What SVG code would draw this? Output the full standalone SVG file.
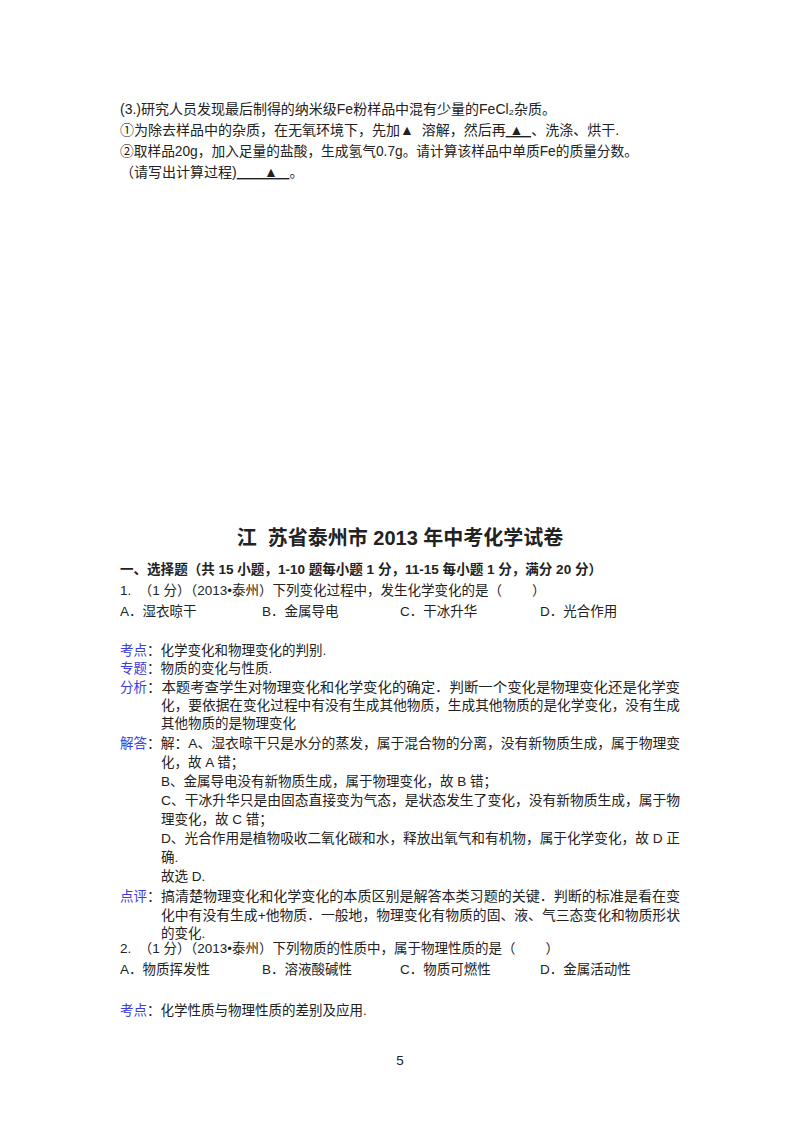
<svg xmlns="http://www.w3.org/2000/svg" width="800" height="1132" viewBox="0 0 800 1132">
<style>
text{font-family:"Liberation Sans","Noto Sans CJK SC",sans-serif;font-size:13.5px;fill:#222}
.b{font-weight:bold}
.l{fill:#3b3bdd}
.t{font-size:20px;font-weight:bold}
.p{font-size:14px}
</style>
<rect width="800" height="1132" fill="#fff"/>
<g id="part3">
<text class="p" x="120" y="114" textLength="436" lengthAdjust="spacingAndGlyphs">(3.)研究人员发现最后制得的纳米级Fe粉样品中混有少量的FeCl₂杂质。</text>
<text class="p" x="120" y="135">①为除去样品中的杂质，在无氧环境下，先加▲&#160;&#160;溶解，然后再<tspan text-decoration="underline">&#160;▲&#160;&#160;</tspan>、洗涤、烘干.</text>
<text class="p" x="120" y="156" textLength="518" lengthAdjust="spacingAndGlyphs">②取样品20g，加入足量的盐酸，生成氢气0.7g。请计算该样品中单质Fe的质量分数。</text>
<text class="p" x="120" y="177">（请写出计算过程)<tspan text-decoration="underline">&#160;&#160;&#160;&#160;&#160;&#160;&#160;▲&#160;&#160;&#160;</tspan>。</text>
</g>
<g id="exam">
<text class="t" x="400" y="545" text-anchor="middle">江&#160;&#160;苏省泰州市 2013 年中考化学试卷</text>
<text class="b" x="120" y="574" textLength="482" lengthAdjust="spacingAndGlyphs">一、选择题（共 15 小题，1-10 题每小题 1 分，11-15 每小题 1 分，满分 20 分）</text>
<text x="120" y="595">1.&#160;&#160;（1 分）（2013•泰州）下列变化过程中，发生化学变化的是（&#160;&#160;&#160;&#160;&#160;&#160;&#160;&#160;）</text>
<text x="120" y="616">A．湿衣晾干</text><text x="262" y="616">B．金属导电</text><text x="400" y="616">C．干冰升华</text><text x="540" y="616">D．光合作用</text>
<text class="l" x="120" y="655">考点</text><text x="147" y="655">：化学变化和物理变化的判别.</text>
<text class="l" x="120" y="673">专题</text><text x="147" y="673">：物质的变化与性质.</text>
<text class="l" x="120" y="692">分析</text><text x="147" y="692" textLength="533" lengthAdjust="spacingAndGlyphs">：本题考查学生对物理变化和化学变化的确定．判断一个变化是物理变化还是化学变</text>
<text x="161" y="710" textLength="519" lengthAdjust="spacingAndGlyphs">化，要依据在变化过程中有没有生成其他物质，生成其他物质的是化学变化，没有生成</text>
<text x="161" y="728">其他物质的是物理变化</text>
<text class="l" x="120" y="748">解答</text><text x="147" y="748" textLength="533" lengthAdjust="spacingAndGlyphs">：解：A、湿衣晾干只是水分的蒸发，属于混合物的分离，没有新物质生成，属于物理变</text>
<text x="161" y="767">化，故 A 错；</text>
<text x="161" y="786">B、金属导电没有新物质生成，属于物理变化，故 B 错；</text>
<text x="161" y="805" textLength="519" lengthAdjust="spacingAndGlyphs">C、干冰升华只是由固态直接变为气态，是状态发生了变化，没有新物质生成，属于物</text>
<text x="161" y="824">理变化，故 C 错；</text>
<text x="161" y="843" textLength="519" lengthAdjust="spacingAndGlyphs">D、光合作用是植物吸收二氧化碳和水，释放出氧气和有机物，属于化学变化，故 D 正</text>
<text x="161" y="862">确.</text>
<text x="161" y="881">故选 D.</text>
<text class="l" x="120" y="901">点评</text><text x="147" y="901" textLength="533" lengthAdjust="spacingAndGlyphs">：搞清楚物理变化和化学变化的本质区别是解答本类习题的关键．判断的标准是看在变</text>
<text x="161" y="920" textLength="519" lengthAdjust="spacingAndGlyphs">化中有没有生成+他物质．一般地，物理变化有物质的固、液、气三态变化和物质形状</text>
<text x="161" y="938">的变化.</text>
<text x="120" y="953">2.&#160;&#160;（1 分）（2013•泰州）下列物质的性质中，属于物理性质的是（&#160;&#160;&#160;&#160;&#160;&#160;&#160;&#160;）</text>
<text x="120" y="974">A．物质挥发性</text><text x="262" y="974">B．溶液酸碱性</text><text x="400" y="974">C．物质可燃性</text><text x="540" y="974">D．金属活动性</text>
<text class="l" x="120" y="1015">考点</text><text x="147" y="1015">：化学性质与物理性质的差别及应用.</text>
<text x="400" y="1065" text-anchor="middle" font-size="11">5</text>
</g>
</svg>
